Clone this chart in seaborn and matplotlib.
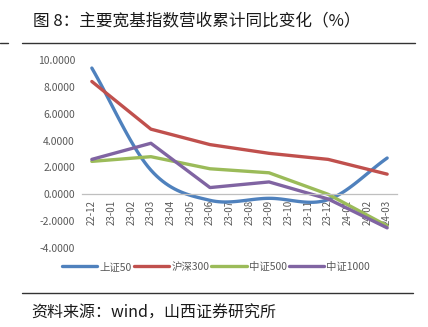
import numpy as np
import pandas as pd
import matplotlib
matplotlib.use("Agg")
import matplotlib.pyplot as plt
import seaborn as sns
from matplotlib.ticker import FixedLocator, FuncFormatter

categories = ["22-12", "23-01", "23-02", "23-03", "23-04", "23-05", "23-06", "23-07",
              "23-08", "23-09", "23-10", "23-11", "23-12", "24-01", "24-02", "24-03"]
quarters = ["22-12", "23-03", "23-06", "23-09", "23-12", "24-03"]
sz50 = [9.40, 1.80, -0.45, -0.30, -0.40, 2.70]
hs300 = [8.40, 4.85, 3.70, 3.05, 2.60, 1.50]
zz500 = [2.45, 2.80, 1.90, 1.60, 0.00, -2.35]
zz1000 = [2.60, 3.80, 0.50, 0.92, -0.35, -2.50]
series_names = ["上证50", "沪深300", "中证500", "中证1000"]
series_vals = [sz50, hs300, zz500, zz1000]
colors = ["#4F81BD", "#C0504D", "#9BBB59", "#8064A2"]
smooth = [True, False, False, False]

sns.set_theme(style="white")
plt.rcParams['font.family'] = ['Noto Sans CJK SC', 'DejaVu Sans']

fig = plt.figure(figsize=(4.28, 3.27), dpi=100)
ax = fig.add_axes([82/428, 1-248/327, 315/428, (248-60)/327])

xpos = [categories.index(q) for q in quarters]


def catmull(x, y, n=20):
    x = np.asarray(x, float); y = np.asarray(y, float)
    px = np.concatenate([[2*x[0]-x[1]], x, [2*x[-1]-x[-2]]])
    py = np.concatenate([[2*y[0]-y[1]], y, [2*y[-1]-y[-2]]])
    xs, ys = [], []
    for i in range(1, len(px)-2):
        t = np.linspace(0, 1, n, endpoint=False)
        for arr, out in ((px, xs), (py, ys)):
            p0, p1, p2, p3 = arr[i-1], arr[i], arr[i+1], arr[i+2]
            out.extend(0.5*((2*p1) + (-p0+p2)*t + (2*p0-5*p1+4*p2-p3)*t**2 + (-p0+3*p1-3*p2+p3)*t**3))
    xs.append(x[-1]); ys.append(y[-1])
    return np.array(xs), np.array(ys)


for name, vals, c, sm in zip(series_names, series_vals, colors, smooth):
    if sm:
        xs, ys = catmull(xpos, vals)
    else:
        xs, ys = np.array(xpos, float), np.array(vals, float)
    df = pd.DataFrame({"x": xs, "y": ys})
    sns.lineplot(data=df, x="x", y="y", ax=ax, color=c, lw=2.4, label=name,
                 sort=False, estimator=None)

ax.set_xlim(-0.5, len(categories) - 0.5)
ax.set_ylim(-4, 10)
ax.set_yticks([-4, -2, 0, 2, 4, 6, 8, 10])
ax.yaxis.set_major_formatter(FuncFormatter(lambda v, p: f"{v:.4f}"))
ax.set_xticks(range(len(categories)))
ax.set_xticklabels(categories)
ax.xaxis.set_minor_locator(FixedLocator(np.arange(-0.5, len(categories), 1)))
ax.tick_params(axis='x', which='major', length=0, pad=4, labelsize=7, labelcolor="#595959",
               labelrotation=90)
ax.tick_params(axis='x', which='minor', length=4, color="#BFBFBF", width=0.8, direction='out')
ax.tick_params(axis='y', length=0, pad=5, labelsize=7.5, labelcolor="#595959")
for lab in ax.get_xticklabels():
    lab.set_rotation(90)
    lab.set_ha("center")
    lab.set_va("top")
ax.set_xlabel(""); ax.set_ylabel("")
for s in ["top", "right", "left"]:
    ax.spines[s].set_visible(False)
ax.spines["bottom"].set_position(("data", 0))
ax.spines["bottom"].set_color("#BFBFBF")
ax.spines["bottom"].set_linewidth(0.9)
ax.grid(False)

leg = ax.legend(loc="center", bbox_to_anchor=(216/428, 1-267/327), bbox_transform=fig.transFigure,
                ncol=4, frameon=False, fontsize=7.5, handlelength=3.4, handletextpad=0.2,
                columnspacing=0.2, borderaxespad=0)
for t in leg.get_texts():
    t.set_color("#595959")

fig.text(33/428, 1-22/327, "图 8：主要宽基指数营收累计同比变化（%）", fontsize=12,
         color="#1a1a1a", va="center", ha="left")
fig.add_artist(plt.Line2D([22/428, 415/428], [1-43/327, 1-43/327], color="#333333", lw=1.0))
fig.add_artist(plt.Line2D([0, 8/428], [1-43/327, 1-43/327], color="#333333", lw=1.0))
fig.add_artist(plt.Line2D([22/428, 413/428], [1-293/327, 1-293/327], color="#333333", lw=1.0))
fig.text(31/428, 1-313/327, "资料来源：wind，山西证券研究所", fontsize=11.5,
         color="#1a1a1a", va="center", ha="left")

fig.savefig("out.png", dpi=100)
